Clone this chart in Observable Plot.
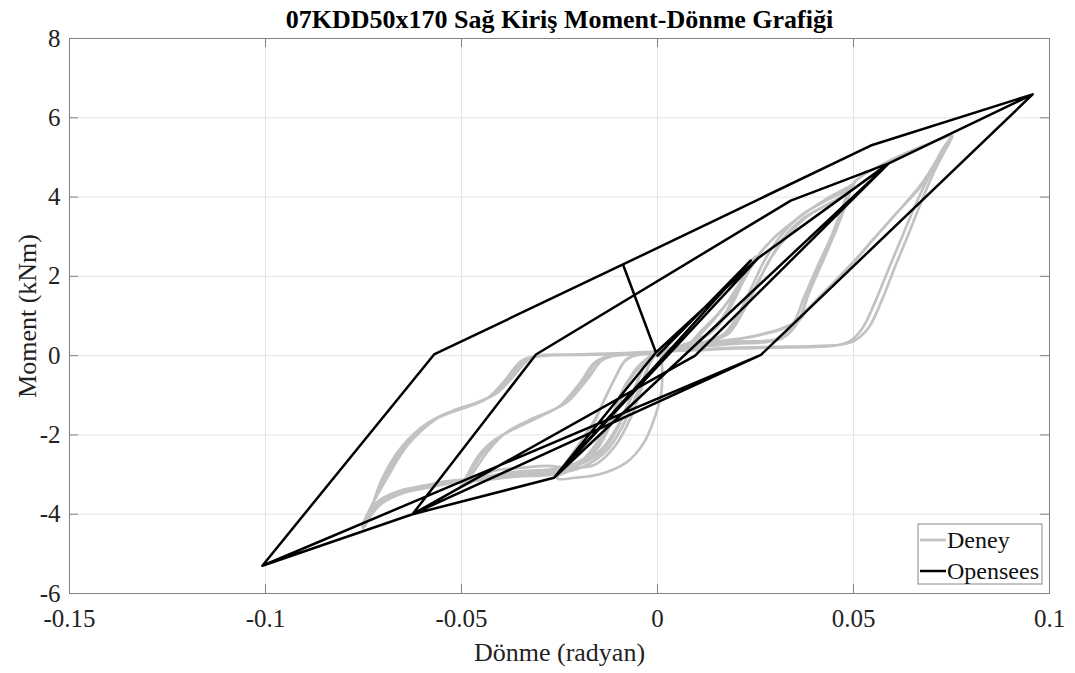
<!DOCTYPE html>
<html>
<head>
<meta charset="utf-8">
<script src="https://cdn.jsdelivr.net/npm/d3@7"></script>
<script src="https://cdn.jsdelivr.net/npm/@observablehq/plot@0.6"></script>
<style>
  html, body { margin: 0; padding: 0; background: #fff; }
  #chart { width: 1075px; height: 673px; }
</style>
</head>
<body>
<div id="chart"></div>
<script>
const title = "07KDD50x170 Sağ Kiriş Moment-Dönme Grafiği";
const xLabel = "Dönme (radyan)";
const yLabel = "Moment (kNm)";
const xTicks = [-0.15, -0.1, -0.05, 0, 0.05, 0.1];
const yTicks = [-6, -4, -2, 0, 2, 4, 6, 8];
const seriesNames = ["Deney", "Opensees"];

// Deney (experiment) — cycles at ±0.025
const deneyS1 = [[0,0],[0.004,0.12],[0.008,0.3],[0.0112,0.63],[0.0155,1.06],[0.0206,1.72],[0.024,2.4],[0.0252,2.5],
  [0.0245,2.35],[0.0215,1.8],[0.0185,1.2],[0.015,0.7],[0.011,0.42],[0.006,0.25],[0.001,0.1],
  [0.0012,-0.3],[0.001,-0.9],[-0.0005,-1.5],[-0.0035,-2.2],[-0.008,-2.7],[-0.015,-3.0],[-0.021,-3.08],[-0.0255,-3.1],
  [-0.0245,-2.9],[-0.021,-2.4],[-0.0165,-1.75],[-0.0135,-1.1],[-0.011,-0.6],[-0.0085,-0.15],[-0.006,0],[-0.002,0.05]];
const deneyS2 = [[0.004,0.15],[0.009,0.35],[0.012,0.65],[0.016,1.1],[0.0205,1.75],[0.0235,2.3],[0.025,2.45],
  [0.0242,2.3],[0.0205,1.7],[0.0175,1.1],[0.0145,0.65],[0.01,0.4],[0.005,0.22],[0,0.1],
  [-0.003,-0.1],[-0.006,-0.4],[-0.009,-1.0],[-0.013,-1.8],[-0.017,-2.4],[-0.021,-2.8],[-0.025,-3.0],
  [-0.024,-2.8],[-0.0205,-2.3],[-0.0165,-1.7],[-0.013,-1.0],[-0.0105,-0.5],[-0.008,-0.1],[-0.005,0.02],[0,0.08]];
// ±0.05
const deneyM1 = [[0.006,0.2],[0.011,0.4],[0.015,0.75],[0.019,1.35],[0.0225,2.0],[0.0255,2.5],[0.03,3.0],[0.035,3.41],[0.0437,3.99],[0.0495,4.3],[0.0505,4.4],
  [0.0488,4.2],[0.0437,3.95],[0.0368,3.55],[0.0317,3.05],[0.0273,2.4],[0.024,1.72],[0.0207,1.06],[0.0171,0.56],[0.012,0.35],[0.005,0.2],[0,0.05],
  [-0.002,-0.2],[-0.004,-0.8],[-0.007,-1.6],[-0.011,-2.3],[-0.016,-2.75],[-0.0227,-2.83],[-0.0278,-2.78],[-0.0347,-2.83],[-0.0416,-2.9],[-0.0457,-3.08],[-0.0495,-3.25],[-0.0505,-3.32],
  [-0.0483,-3.12],[-0.0432,-2.4],[-0.039,-1.97],[-0.033,-1.64],[-0.0271,-1.39],[-0.0227,-1.14],[-0.0176,-0.56],[-0.0143,-0.13],[-0.011,0],[-0.005,0.05],[0,0.1]];
const deneyM2 = [[0.01,0.25],[0.02,0.33],[0.0317,0.43],[0.036,0.88],[0.0386,1.57],[0.0419,2.32],[0.0452,3.08],[0.0478,3.74],[0.0495,4.24],[0.0502,4.38],
  [0.049,4.15],[0.045,3.9],[0.038,3.5],[0.033,3.0],[0.0285,2.4],[0.025,1.7],[0.0215,1.05],[0.018,0.55],[0.012,0.35],[0.005,0.2],[0,0.08],
  [-0.003,-0.15],[-0.007,-0.6],[-0.011,-1.5],[-0.015,-2.3],[-0.02,-2.7],[-0.025,-2.85],[-0.032,-2.9],[-0.04,-2.98],[-0.046,-3.12],[-0.05,-3.28],
  [-0.0485,-3.05],[-0.0445,-2.45],[-0.0402,-2.05],[-0.0342,-1.72],[-0.0283,-1.45],[-0.0238,-1.2],[-0.0188,-0.62],[-0.0155,-0.16],[-0.012,-0.02],[-0.005,0.05],[0,0.1]];
const deneyM3 = [[0.01,0.22],[0.02,0.3],[0.03,0.4],[0.0348,0.85],[0.0375,1.5],[0.0408,2.25],[0.0443,3.0],[0.047,3.7],[0.049,4.2],[0.0503,4.36],
  [0.0485,4.1],[0.044,3.85],[0.037,3.45],[0.032,2.95],[0.028,2.3],[0.0245,1.65],[0.021,1.0],[0.0175,0.52],[0.012,0.33],[0.005,0.18],[0,0.06],
  [-0.003,-0.12],[-0.008,-0.7],[-0.012,-1.6],[-0.016,-2.35],[-0.021,-2.72],[-0.026,-2.85],[-0.033,-2.92],[-0.041,-3.0],[-0.0465,-3.15],[-0.0502,-3.3],
  [-0.049,-3.1],[-0.0455,-2.5],[-0.0412,-2.1],[-0.0352,-1.78],[-0.0292,-1.5],[-0.0247,-1.25],[-0.0197,-0.68],[-0.0163,-0.2],[-0.013,-0.03],[-0.005,0.04],[0,0.1]];
// ±0.075
const deneyL1 = [[0.01,0.25],[0.02,0.35],[0.0317,0.45],[0.036,0.9],[0.0386,1.6],[0.0419,2.35],[0.0452,3.1],[0.048,3.8],[0.0505,4.4],[0.056,4.75],[0.062,5.05],[0.068,5.3],[0.0752,5.55],
  [0.0743,5.43],[0.0707,4.85],[0.0674,4.34],[0.0623,3.74],[0.0554,2.98],[0.0503,2.4],[0.0437,1.72],[0.0386,1.21],[0.036,0.88],[0.0324,0.71],[0.025,0.5],[0.015,0.35],[0.005,0.2],[0,0.1],
  [-0.002,-0.2],[-0.005,-0.9],[-0.009,-1.8],[-0.013,-2.4],[-0.019,-2.8],[-0.027,-3.0],[-0.036,-3.05],[-0.045,-3.15],[-0.0534,-3.23],[-0.0585,-3.33],[-0.0646,-3.46],[-0.0705,-3.74],[-0.0743,-4.2],[-0.0752,-4.35],
  [-0.0743,-4.24],[-0.0705,-3.16],[-0.0654,-2.32],[-0.0585,-1.69],[-0.0534,-1.46],[-0.0475,-1.26],[-0.0432,-1.06],[-0.039,-0.63],[-0.0347,-0.13],[-0.0304,0],[-0.02,0.03],[-0.01,0.06],[0,0.1]];
const deneyL2 = [[0.01,0.15],[0.02,0.2],[0.03,0.22],[0.04,0.24],[0.047,0.28],[0.0503,0.38],[0.0539,0.71],[0.0572,1.39],[0.0605,2.22],[0.0641,3.08],[0.0674,3.91],[0.0707,4.67],[0.0743,5.35],[0.0751,5.5],
  [0.074,5.3],[0.0705,4.75],[0.067,4.25],[0.0615,3.65],[0.0548,2.9],[0.0498,2.33],[0.0432,1.66],[0.038,1.15],[0.0352,0.85],[0.0315,0.68],[0.024,0.48],[0.014,0.33],[0.005,0.18],[0,0.08],
  [-0.003,-0.2],[-0.006,-0.9],[-0.01,-1.8],[-0.014,-2.4],[-0.02,-2.75],[-0.028,-2.95],[-0.037,-3.0],[-0.046,-3.12],[-0.054,-3.2],[-0.059,-3.3],[-0.065,-3.43],[-0.0708,-3.7],[-0.0745,-4.15],[-0.0753,-4.3],
  [-0.0745,-4.15],[-0.0697,-3.1],[-0.0645,-2.28],[-0.0575,-1.64],[-0.0524,-1.4],[-0.0465,-1.2],[-0.0422,-1.0],[-0.038,-0.58],[-0.0337,-0.1],[-0.0295,0.0],[-0.02,0.03],[-0.01,0.06],[0,0.1]];
const deneyL3 = [[0.01,0.14],[0.02,0.18],[0.03,0.2],[0.04,0.22],[0.0455,0.26],[0.0488,0.35],[0.0522,0.68],[0.0555,1.35],[0.0588,2.15],[0.0624,3.0],[0.066,3.85],[0.0696,4.6],[0.0733,5.3],[0.0748,5.45],
  [0.0738,5.25],[0.07,4.7],[0.0665,4.2],[0.061,3.6],[0.0543,2.85],[0.0493,2.28],[0.0428,1.62],[0.0376,1.1],[0.0348,0.82],[0.031,0.65],[0.023,0.46],[0.013,0.32],[0.005,0.17],[0,0.06],
  [-0.003,-0.2],[-0.006,-0.85],[-0.01,-1.75],[-0.0145,-2.38],[-0.0205,-2.72],[-0.0285,-2.9],[-0.0375,-2.98],[-0.0465,-3.1],[-0.0545,-3.18],[-0.0595,-3.28],[-0.0655,-3.4],[-0.071,-3.65],[-0.0745,-4.1],[-0.0752,-4.28],
  [-0.0745,-4.1],[-0.0688,-3.05],[-0.0636,-2.24],[-0.0565,-1.6],[-0.0514,-1.36],[-0.0455,-1.16],[-0.0412,-0.96],[-0.037,-0.55],[-0.0326,-0.08],[-0.0285,0],[-0.02,0.02],[-0.01,0.04],[0,0.05]];

// Opensees model path
const opensees = [
  [0,0],[0.0238,2.40],[-0.0264,-3.08],[-0.0004,0.08],[0.0258,2.47],[-0.0264,-3.08],[-0.0004,0.08],[0.0258,2.47],
  [0.059,4.85],[-0.0264,-3.08],[-0.0625,-4.0],[-0.031,0.03],[0.034,3.91],[0.059,4.85],
  [0.0096,0.0],[-0.0625,-4.0],[-0.031,0.03],[0.034,3.91],[0.059,4.85],
  [0.0957,6.59],[0.0264,0.02],[-0.0625,-4.0],[-0.1008,-5.30],
  [-0.057,0.03],[-0.0088,2.30],[0.0544,5.30],[0.0957,6.59],
  [0.0264,0.02],[-0.1008,-5.30],[-0.057,0.03],[-0.0088,2.30],[-0.0004,0.08]
];

const deney = [].concat(deneyS1, deneyS2, deneyM1, deneyM2, deneyM3, deneyL1, deneyL2, deneyL3);

const font = "'Liberation Serif', 'Times New Roman', serif";
const axisColor = "#808080";
const grayColor = "#c2c2c2";

const W = 1075, H = 673;
const mL = 69, mR = 26, mT = 38, mB = 80;
const fw = W - mL - mR, fh = H - mT - mB;
const tickLen = 9;

const chart = Plot.plot({
  width: W, height: H,
  marginLeft: mL, marginRight: mR, marginTop: mT, marginBottom: mB,
  style: {fontFamily: font, background: "white", color: "#222"},
  x: {domain: [-0.15, 0.1]},
  y: {domain: [-6, 8]},
  marks: [
    Plot.gridX(xTicks, {stroke: "#e4e4e4", strokeOpacity: 1}),
    Plot.gridY(yTicks, {stroke: "#e4e4e4", strokeOpacity: 1}),
    Plot.line(deney, {stroke: grayColor, strokeWidth: 2.7, strokeLinejoin: "round", curve: "catmull-rom"}),
    Plot.line(opensees, {stroke: "#000", strokeWidth: 2.5, strokeLinejoin: "round"}),
    Plot.frame({stroke: axisColor}),
    Plot.ruleX(xTicks, {stroke: axisColor, insetTop: fh - tickLen}),
    Plot.ruleX(xTicks, {stroke: axisColor, insetBottom: fh - tickLen}),
    Plot.ruleY(yTicks, {stroke: axisColor, insetRight: fw - tickLen}),
    Plot.ruleY(yTicks, {stroke: axisColor, insetLeft: fw - tickLen}),
    Plot.axisX({ticks: xTicks, tickSize: 0, tickPadding: 16, tickFormat: d => String(d), fontSize: 25, label: null, fill: "#222"}),
    Plot.axisY({ticks: yTicks, tickSize: 0, tickPadding: 9, tickFormat: d => String(d), fontSize: 25, label: null, fill: "#222"}),
    Plot.text([title], {frameAnchor: "top", lineAnchor: "middle", textAnchor: "middle", dy: -19, fontWeight: "bold", fontSize: 26, fill: "#000"}),
    Plot.text([xLabel], {frameAnchor: "bottom", lineAnchor: "middle", textAnchor: "middle", dy: 59, fontSize: 26, fill: "#222"}),
    Plot.text([yLabel], {frameAnchor: "left", lineAnchor: "middle", textAnchor: "middle", dx: -42, rotate: -90, fontSize: 26, fill: "#222"})
  ]
});
document.getElementById("chart").appendChild(chart);

// Legend box (inside plot, bottom-right)
const svg = d3.select(chart);
const lg = svg.append("g").attr("font-family", font).attr("font-size", 24).attr("text-anchor", "start");
lg.append("rect").attr("x", 918).attr("y", 524).attr("width", 124).attr("height", 60)
  .attr("fill", "white").attr("stroke", "#8a8a8a").attr("stroke-width", 1);
const legendItems = [
  {name: seriesNames[0], color: grayColor, width: 2.7, y: 540},
  {name: seriesNames[1], color: "#000", width: 2.5, y: 571}
];
for (const it of legendItems) {
  lg.append("line").attr("x1", 920).attr("x2", 946).attr("y1", it.y).attr("y2", it.y)
    .attr("stroke", it.color).attr("stroke-width", it.width);
  lg.append("text").attr("x", 947).attr("y", it.y).attr("dy", "0.32em").attr("text-anchor", "start").attr("fill", "#111").text(it.name);
}
</script>
</body>
</html>
